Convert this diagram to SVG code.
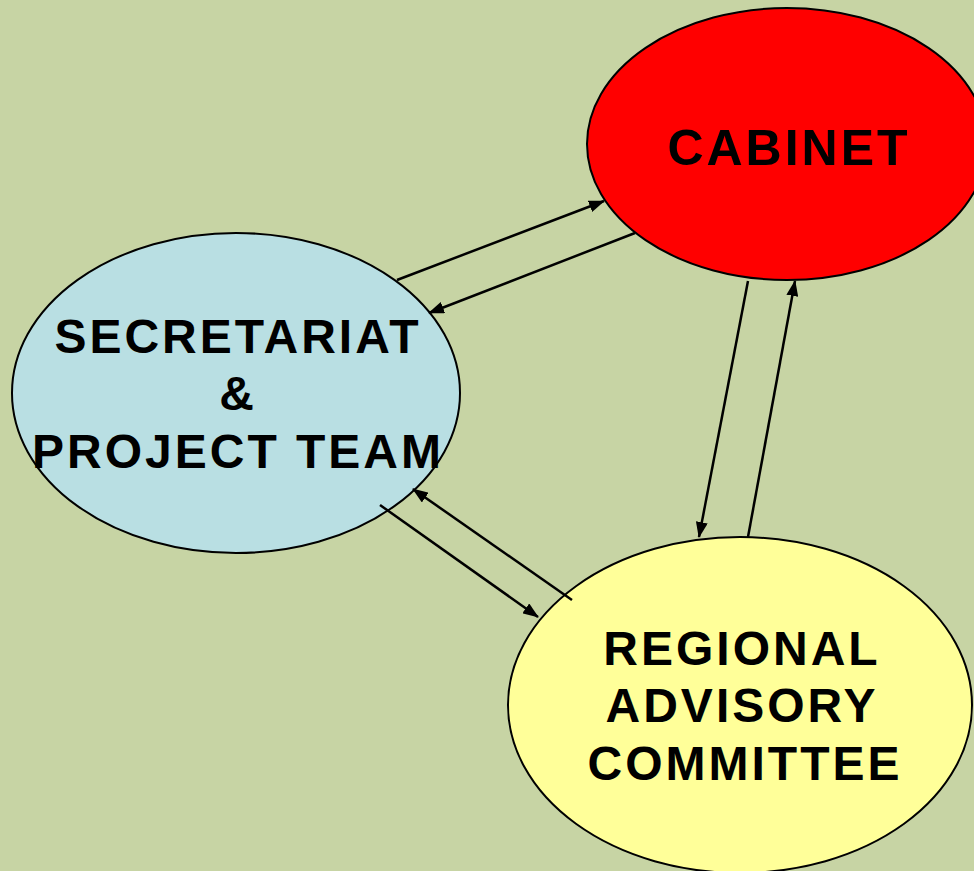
<svg xmlns="http://www.w3.org/2000/svg" width="974" height="871" viewBox="0 0 974 871">
<defs>
<marker id="ah" markerWidth="16" markerHeight="12" refX="15" refY="6" orient="auto" markerUnits="userSpaceOnUse">
<path d="M0,0 L16,6 L0,12 Z" fill="#000"/>
</marker>
<style>
.node ellipse{stroke:#000;stroke-width:2}
.lbl{font-family:"Liberation Sans",Arial,sans-serif;font-weight:bold;font-size:48px;letter-spacing:3px;text-anchor:middle;fill:#000}
.conn line{stroke:#000;stroke-width:2.5;marker-end:url(#ah)}
</style>
</defs>
<rect width="974" height="871" fill="#C7D4A4"/>
<g id="cabinet" class="node">
<ellipse cx="787" cy="144" rx="200" ry="136" fill="#FF0000"/>
<text class="lbl" x="789" y="165" style="font-size:50px">CABINET</text>
</g>
<g id="secretariat" class="node">
<ellipse cx="236" cy="393" rx="224" ry="160" fill="#B9DFE3"/>
<text class="lbl" x="238" y="353">SECRETARIAT</text>
<text class="lbl" x="238" y="410">&amp;</text>
<text class="lbl" x="238" y="468">PROJECT TEAM</text>
</g>
<g id="regional" class="node">
<ellipse cx="740" cy="705" rx="232" ry="168" fill="#FFFF99"/>
<text class="lbl" x="742" y="665">REGIONAL</text>
<text class="lbl" x="742" y="722">ADVISORY</text>
<text class="lbl" x="745" y="780">COMMITTEE</text>
</g>
<g id="connectors" class="conn">
<line x1="397" y1="280" x2="604" y2="201"/>
<line x1="635" y1="233" x2="429" y2="313"/>
<line x1="748" y1="281" x2="699" y2="537"/>
<line x1="748" y1="537" x2="795" y2="281"/>
<line x1="380" y1="505" x2="538" y2="617"/>
<line x1="572" y1="600" x2="413" y2="489"/>
</g>
</svg>
